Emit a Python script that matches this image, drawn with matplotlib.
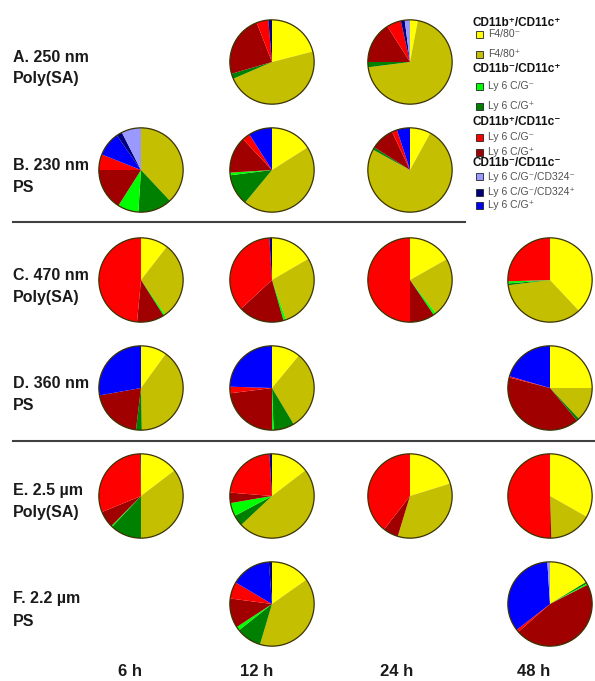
import matplotlib
matplotlib.use("Agg")
import matplotlib.pyplot as plt
from matplotlib.patches import Circle, Rectangle
from matplotlib.lines import Line2D

plt.rcParams['font.family'] = ['Liberation Sans', 'DejaVu Sans']

W, H = 595, 681

# slice order: F4/80-, F4/80+, Ly6C/G+ (CD11c+), Ly6C/G- (CD11c+),
# Ly6C/G+ (CD11b+), Ly6C/G- (CD11b+), Ly6C/G+, CD324+, CD324-
colors = ['#ffff00', '#c4bf00', '#008000', '#00ff00',
          '#a00000', '#ff0000', '#0000ff', '#000080', '#9999ff']

times = ['6 h', '12 h', '24 h', '48 h']

row_a = {'12 h': [21, 47.5, 2, 0, 23.6, 4.5, 0, 1.4, 0],
         '24 h': [3, 70, 2, 0, 16, 5.5, 0, 1.5, 2]}
row_b = {'6 h': [0, 38, 13, 8, 16, 6, 9.3, 2.2, 7.5],
         '12 h': [16, 45, 12, 1, 14, 3, 9, 0, 0],
         '24 h': [8, 75, 1, 0, 9, 2, 5, 0, 0]}
row_c = {'6 h': [10.5, 29.8, 0, 0.7, 10.5, 48.5, 0, 0, 0],
         '12 h': [16.6, 28, 0, 1, 17.5, 35.9, 0, 1, 0],
         '24 h': [16.8, 22.7, 0, 1, 9.5, 50, 0, 0, 0],
         '48 h': [38, 35, 0.7, 0.8, 0, 25.5, 0, 0, 0]}
row_d = {'6 h': [10, 39.7, 2.2, 0, 20.3, 0, 27.8, 0, 0],
         '12 h': [11, 30.4, 8, 0.6, 23, 2.5, 24.5, 0, 0],
         '48 h': [25, 13, 1, 0, 40, 0.5, 20.5, 0, 0]}
row_e = {'6 h': [14.6, 35.4, 12, 0.4, 6.4, 30.9, 0, 0.3, 0],
         '12 h': [14.6, 48.4, 4.2, 5.1, 4, 22.7, 0, 1, 0],
         '24 h': [20.2, 34.5, 0, 0, 5.8, 39.5, 0, 0, 0],
         '48 h': [33.2, 16.3, 0, 0, 0.5, 50, 0, 0, 0]}
row_f = {'12 h': [15.2, 39.4, 9.7, 1.5, 11.3, 6.4, 15.3, 1.2, 0],
         '48 h': [16.3, 0, 0.7, 0.5, 46, 1, 34.5, 0, 1]}

rows = [row_a, row_b, row_c, row_d, row_e, row_f]
row_names = [('A. 250 nm', 'Poly(SA)'), ('B. 230 nm', 'PS'),
             ('C. 470 nm', 'Poly(SA)'), ('D. 360 nm', 'PS'),
             ('E. 2.5 \u00b5m', 'Poly(SA)'), ('F. 2.2 \u00b5m', 'PS')]

legend_groups = [
    ('CD11b\u207a/CD11c\u207a', [(0, 'F4/80\u207b'), (1, 'F4/80\u207a')]),
    ('CD11b\u207b/CD11c\u207a', [(3, 'Ly 6 C/G\u207b'), (2, 'Ly 6 C/G\u207a')]),
    ('CD11b\u207a/CD11c\u207b', [(5, 'Ly 6 C/G\u207b'), (4, 'Ly 6 C/G\u207a')]),
    ('CD11b\u207b/CD11c\u207b', [(8, 'Ly 6 C/G\u207b/CD324\u207b'),
                                 (7, 'Ly 6 C/G\u207b/CD324\u207a'),
                                 (6, 'Ly 6 C/G\u207a')]),
]

col_x = [141, 272, 410, 550]
row_y = [62, 170, 280, 388, 496, 604]
R = 43

fig = plt.figure(figsize=(W / 100, H / 100), dpi=100)


def fx(x):
    return x / W


def fy(y):
    return 1 - y / H


for values, cy in zip(rows, row_y):
    for t, cx in zip(times, col_x):
        if t not in values:
            continue
        ax = fig.add_axes([fx(cx - R), fy(cy + R), 2 * R / W, 2 * R / H])
        ax.pie(values[t], colors=colors, startangle=90, counterclock=False,
               radius=1, wedgeprops=dict(linewidth=0))
        ax.add_patch(Circle((0, 0), 1, fill=False, edgecolor='#3a3200', linewidth=0.9))
        ax.set_xlim(-1.02, 1.02)
        ax.set_ylim(-1.02, 1.02)
        ax.set_aspect('auto')
        ax.axis('off')

# row labels
for (l1, l2), cy in zip(row_names, row_y):
    fig.text(fx(13), fy(cy - 5), l1, fontsize=11.5, fontweight='bold',
             color='#1a1a1a', va='center', ha='left')
    fig.text(fx(13), fy(cy + 17), l2, fontsize=11.5, fontweight='bold',
             color='#1a1a1a', va='center', ha='left')

# time labels
for t, x in zip(times, [130, 257, 397, 534]):
    fig.text(fx(x), fy(672), t, fontsize=12, fontweight='bold',
             color='#1a1a1a', ha='center', va='center')

# separators
for y, x1 in [(222, 465), (441, 595)]:
    fig.add_artist(Line2D([fx(13), fx(x1)], [fy(y), fy(y)],
                          color='#404040', linewidth=1.5))

# legend
header_y = [23, 69, 122, 163]
item_y = [[34, 54], [86, 106], [137, 152], [177, 192, 205]]
for (header, items), hy, iys in zip(legend_groups, header_y, item_y):
    fig.text(fx(473), fy(hy), header, fontsize=8.5, fontweight='bold',
             color='#111111', va='center', ha='left')
    for (ci, label), iy in zip(items, iys):
        fig.add_artist(Rectangle((fx(476), fy(iy + 3.5)), 7 / W, 7 / H,
                                 facecolor=colors[ci], edgecolor='#222222',
                                 linewidth=0.6))
        fig.text(fx(488), fy(iy), label, fontsize=7.5, color='#505050',
                 va='center', ha='left')

fig.savefig('out.png', dpi=100)
